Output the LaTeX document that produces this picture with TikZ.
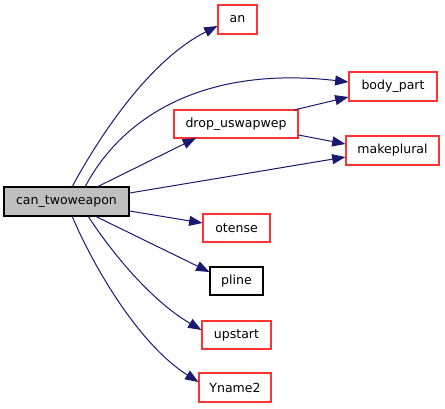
\documentclass[tikz,border=0pt]{standalone}
\usepackage{fontspec}
\setmainfont{DejaVu Sans}
\usetikzlibrary{arrows.meta}
\definecolor{edgeblue}{HTML}{191970}
\definecolor{boxred}{HTML}{FF3333}
\begin{document}
\begin{tikzpicture}[x=0.75pt,y=-0.75pt,
  fn/.style={draw=boxred,fill=white,line width=0.8pt,inner sep=0pt,font=\fontsize{9.4pt}{11pt}\selectfont,anchor=center},
  fnblack/.style={fn,draw=black},
  fnmain/.style={fn,draw=black,fill=gray!50},
  call/.style={draw=edgeblue,line width=0.75pt,-{Triangle[length=10pt,width=7.5pt]}}]
\useasboundingbox (0,0) rectangle (445,408);
\node[fnmain,minimum width=125*0.75pt,minimum height=29*0.75pt] (ct) at (66.5,201.5) {can\_twoweapon};
\node[fn,minimum width=39*0.75pt,minimum height=29*0.75pt] (an) at (237.5,19.5) {an};
\node[fn,minimum width=88*0.75pt,minimum height=29*0.75pt] (bp) at (393,86.5) {body\_part};
\node[fn,minimum width=124*0.75pt,minimum height=28*0.75pt] (du) at (236,124) {drop\_uswapwep};
\node[fn,minimum width=93*0.75pt,minimum height=29*0.75pt] (mp) at (392.5,150.5) {makeplural};
\node[fn,minimum width=67*0.75pt,minimum height=28*0.75pt] (ot) at (236.5,228) {otense};
\node[fnblack,minimum width=53*0.75pt,minimum height=28*0.75pt] (pl) at (236.5,281) {pline};
\node[fn,minimum width=69*0.75pt,minimum height=28*0.75pt] (up) at (236.5,335) {upstart};
\node[fn,minimum width=72*0.75pt,minimum height=29*0.75pt] (yn) at (235,387.5) {Yname2};
\coordinate (ctan) at (72,187);
\coordinate (ctbp) at (85,187);
\coordinate (ctdu) at (97,187);
\coordinate (ctup) at (88,216);
\coordinate (ctyn) at (72,216);
\coordinate (ctpl) at (95,216);
\coordinate (dutip) at (196,138);
\coordinate (dubp) at (294,110);
\draw[call] (ctan) .. controls (100,135) and (150,60) .. (an.west |- 0,26);
\draw[call] (ctbp) .. controls (120,120) and (200,65) .. (bp.west |- 0,82);
\draw[call] (ctdu) -- (dutip);
\draw[call] (ct.east |- 0,193) -- (mp.west |- 0,157);
\draw[call] (dubp) -- (bp.west |- 0,97);
\draw[call] (du.east |- 0,135) -- (mp.west |- 0,144);
\draw[call] (ct.east |- 0,211) -- (ot.west |- 0,223);
\draw[call] (ctpl) -- (pl.west |- 0,272);
\draw[call] (ctup) .. controls (110,250) and (150,300) .. (up.west |- 0,330);
\draw[call] (ctyn) .. controls (95,270) and (140,345) .. (yn.west |- 0,382);
\end{tikzpicture}
\end{document}
